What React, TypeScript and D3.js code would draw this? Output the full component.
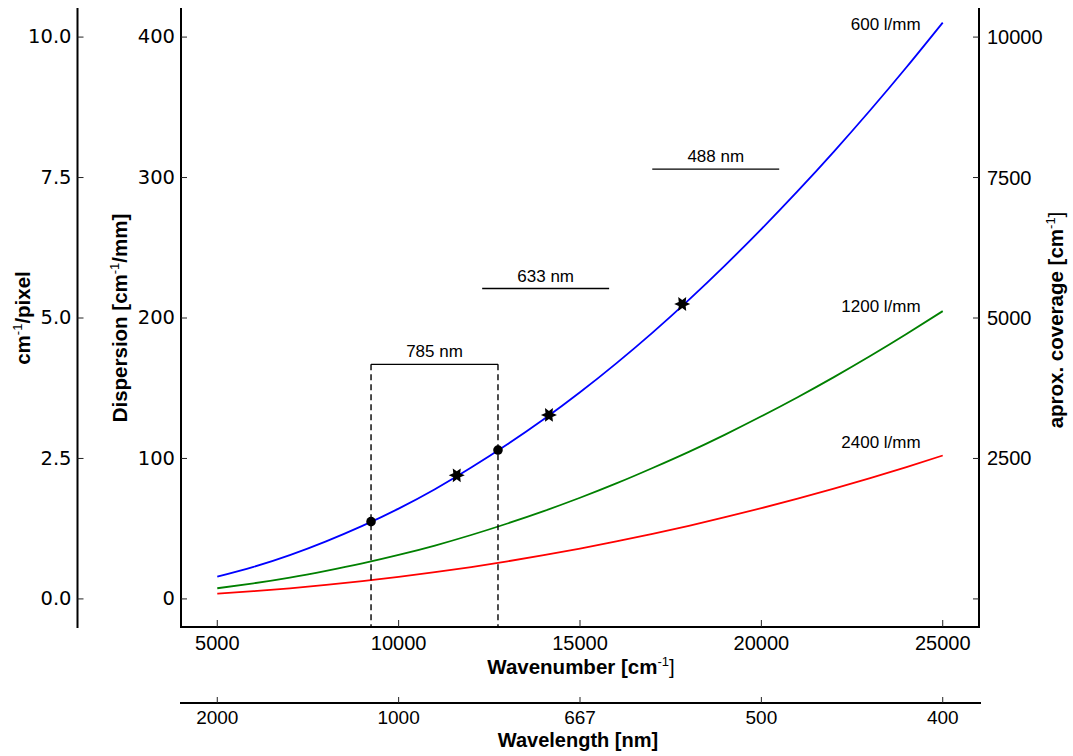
import React, { useEffect, useRef } from "react";
import * as d3 from "d3";

// Linear dispersion of three gratings against absolute wavenumber
const wavenumbers = [
  5000, 6000, 7000, 8000, 9000, 10000, 11000, 12000, 13000, 14000, 15000,
  16000, 17000, 18000, 19000, 20000, 21000, 22000, 23000, 24000, 25000,
];
const dispersion600 = [
  15.8, 22.8, 31.2, 41.0, 52.0, 64.3, 78.1, 93.5, 110.1, 127.9, 147.1, 167.7,
  189.6, 212.9, 237.5, 263.3, 290.3, 318.5, 347.9, 378.5, 410.3,
];
const dispersion1200 = [
  7.6, 11.1, 15.2, 20.0, 25.3, 31.3, 38.0, 45.5, 53.7, 62.5, 72.0, 82.2, 93.2,
  104.7, 117.0, 130.0, 143.6, 157.9, 172.9, 188.6, 204.9,
];
const dispersion2400 = [
  3.8, 5.5, 7.55, 9.95, 12.65, 15.65, 19.0, 22.7, 26.75, 31.15, 35.85, 40.9,
  46.3, 52.05, 58.15, 64.6, 71.4, 78.55, 86.05, 93.9, 102.1,
];
const gratingNames = ["600 l/mm", "1200 l/mm", "2400 l/mm"];
const gratingColors = ["#0000ff", "#008000", "#ff0000"];

// Highlighted points on the 600 l/mm curve
const circleWavenumbers = [9239, 12739];
const circleValues = [55, 106];
const starWavenumbers = [11602, 14144, 17818];
const starValues = [88, 131, 210];

// Laser lines and their 3500 cm-1 Stokes windows
const laserNames = ["785 nm", "633 nm", "488 nm"];
const laserWindowStart = [9239, 12303, 16992];
const laserWindowEnd = [12739, 15803, 20492];
const laserWindowLevel = [167, 221, 306];

// Axis ticks
const wavenumberTicks = [5000, 10000, 15000, 20000, 25000];
const dispersionTicks = [0, 100, 200, 300, 400];
const pixelTicks = [0, 2.5, 5, 7.5, 10];
const coverageTicks = [0, 2500, 5000, 7500, 10000];

const W = 1073;
const H = 756;
const LEFT = 181;
const RIGHT = 979;
const TOP = 9;
const BOTTOM = 627;
const OUTER_LEFT = 77.5;
const WL_AXIS_Y = 703;

const TICK_FONT_L = "'DejaVu Sans', sans-serif";
const SANS = "'Liberation Sans', Arial, sans-serif";
const TITLE_SIZE = 20.5;

export default function App() {
  const ref = useRef<SVGSVGElement>(null);

  useEffect(() => {
    const svg = d3.select(ref.current);
    svg.selectAll("*").remove();

    const x = d3.scaleLinear().domain([4000, 26000]).range([LEFT, RIGHT]);
    const y = d3.scaleLinear().domain([-20, 420]).range([BOTTOM, TOP]);
    const yPix = d3.scaleLinear().domain([-0.5, 10.5]).range([BOTTOM, TOP]);
    const yCov = d3.scaleLinear().domain([-500, 10500]).range([BOTTOM, TOP]);

    const g = svg.append("g");

    // curves
    const series = [dispersion600, dispersion1200, dispersion2400];
    const line = d3
      .line<number>()
      .x((_, i) => x(wavenumbers[i]))
      .y((d) => y(d))
      .curve(d3.curveNatural);
    series.forEach((s, k) => {
      g.append("path")
        .attr("d", line(s))
        .attr("fill", "none")
        .attr("stroke", gratingColors[k])
        .attr("stroke-width", 1.8);
    });

    // laser windows
    laserNames.forEach((name, i) => {
      const x0 = x(laserWindowStart[i]);
      const x1 = x(laserWindowEnd[i]);
      const yl = y(laserWindowLevel[i]);
      g.append("line")
        .attr("x1", x0)
        .attr("x2", x1)
        .attr("y1", yl)
        .attr("y2", yl)
        .attr("stroke", "#000")
        .attr("stroke-width", 1.4);
      g.append("text")
        .attr("x", (x0 + x1) / 2)
        .attr("y", yl - 7)
        .attr("text-anchor", "middle")
        .attr("font-family", SANS)
        .attr("font-size", 17)
        .text(name);
      if (i === 0) {
        [x0, x1].forEach((xv) => {
          g.append("line")
            .attr("x1", xv)
            .attr("x2", xv)
            .attr("y1", yl)
            .attr("y2", y(-20))
            .attr("stroke", "#000")
            .attr("stroke-width", 1.4)
            .attr("stroke-dasharray", "6,4");
        });
      }
    });

    // markers
    circleWavenumbers.forEach((wn, i) => {
      g.append("circle")
        .attr("cx", x(wn))
        .attr("cy", y(circleValues[i]))
        .attr("r", 4.8)
        .attr("fill", "#000");
    });
    const starPath = (() => {
      const pts: [number, number][] = [];
      for (let k = 0; k < 12; k++) {
        const a = (k * Math.PI) / 6;
        const r = k % 2 === 0 ? 8 : 4;
        pts.push([r * Math.cos(a), r * Math.sin(a)]);
      }
      return "M" + pts.map((p) => p.join(",")).join("L") + "Z";
    })();
    starWavenumbers.forEach((wn, i) => {
      g.append("path")
        .attr("d", starPath)
        .attr("transform", `translate(${x(wn)},${y(starValues[i])})`)
        .attr("fill", "#000");
    });

    // grating labels
    const labelAnchorWn = 24392;
    const labelLevels = [405, 204.3, 107.5];
    gratingNames.forEach((name, k) => {
      g.append("text")
        .attr("x", x(labelAnchorWn))
        .attr("y", y(labelLevels[k]))
        .attr("text-anchor", "end")
        .attr("font-family", SANS)
        .attr("font-size", 17)
        .text(name);
    });

    // spines
    const spine = (x1: number, y1: number, x2: number, y2: number) =>
      g
        .append("line")
        .attr("x1", x1)
        .attr("y1", y1)
        .attr("x2", x2)
        .attr("y2", y2)
        .attr("stroke", "#000")
        .attr("stroke-width", 2);
    spine(OUTER_LEFT, 8, OUTER_LEFT, 628);
    spine(LEFT, 8, LEFT, 628);
    spine(RIGHT, 8, RIGHT, 628);
    spine(LEFT - 1, BOTTOM, RIGHT + 1, BOTTOM);
    spine(LEFT - 1, WL_AXIS_Y, RIGHT + 2, WL_AXIS_Y);

    const tick = (x1: number, y1: number, x2: number, y2: number) =>
      g
        .append("line")
        .attr("x1", x1)
        .attr("y1", y1)
        .attr("x2", x2)
        .attr("y2", y2)
        .attr("stroke", "#222")
        .attr("stroke-width", 1);

    // dispersion axis
    dispersionTicks.forEach((v) => {
      tick(LEFT, y(v), LEFT + 6, y(v));
      g.append("text")
        .attr("x", LEFT - 6)
        .attr("y", y(v))
        .attr("dy", "0.32em")
        .attr("text-anchor", "end")
        .attr("font-family", TICK_FONT_L)
        .attr("font-size", 19.5)
        .text(String(v));
    });
    // cm-1/pixel axis
    pixelTicks.forEach((v) => {
      tick(OUTER_LEFT, yPix(v), OUTER_LEFT + 6, yPix(v));
      g.append("text")
        .attr("x", OUTER_LEFT - 6)
        .attr("y", yPix(v))
        .attr("dy", "0.32em")
        .attr("text-anchor", "end")
        .attr("font-family", TICK_FONT_L)
        .attr("font-size", 19.5)
        .text(d3.format(".1f")(v));
    });
    // coverage axis
    coverageTicks.forEach((v) => {
      tick(RIGHT, yCov(v), RIGHT - 6, yCov(v));
      if (v > 0) {
        g.append("text")
          .attr("x", RIGHT + 8)
          .attr("y", yCov(v))
          .attr("dy", "0.35em")
          .attr("text-anchor", "start")
          .attr("font-family", SANS)
          .attr("font-size", 20)
          .text(String(v));
      }
    });
    // wavenumber axis
    wavenumberTicks.forEach((v) => {
      tick(x(v), BOTTOM, x(v), BOTTOM - 7);
      g.append("text")
        .attr("x", x(v))
        .attr("y", 650)
        .attr("text-anchor", "middle")
        .attr("font-family", SANS)
        .attr("font-size", 20)
        .text(String(v));
    });
    // wavelength axis (same positions, labelled in nm)
    wavenumberTicks.forEach((v) => {
      tick(x(v), WL_AXIS_Y, x(v), WL_AXIS_Y - 6);
      g.append("text")
        .attr("x", x(v))
        .attr("y", 724)
        .attr("text-anchor", "middle")
        .attr("font-family", SANS)
        .attr("font-size", 19)
        .text(d3.format(".0f")(1e7 / v));
    });

    // axis titles with a superscript "-1"
    const title = (
      xp: number,
      yp: number,
      rotate: boolean,
      parts: { t: string; sup?: boolean; plain?: boolean }[],
      size = TITLE_SIZE
    ) => {
      const t = g
        .append("text")
        .attr("x", xp)
        .attr("y", yp)
        .attr("text-anchor", "middle")
        .attr("font-family", SANS)
        .attr("font-weight", "bold")
        .attr("font-size", size);
      if (rotate) t.attr("transform", `rotate(-90,${xp},${yp})`);
      let raised = false;
      parts.forEach((p) => {
        const s = t.append("tspan").text(p.t);
        if (p.sup) {
          s.attr("font-size", 13).attr("dy", -8).attr("font-weight", "normal");
          raised = true;
        } else {
          if (raised) {
            s.attr("dy", 8);
            raised = false;
          }
          if (p.plain) s.attr("font-weight", "normal");
        }
      });
      return t;
    };
    title(581, 674, false, [
      { t: "Wavenumber [cm" },
      { t: "-1", sup: true },
      { t: "]", plain: true },
    ]);
    title(578, 747, false, [{ t: "Wavelength [nm]" }], 20);
    title(127, 318, true, [
      { t: "Dispersion [cm" },
      { t: "-1", sup: true },
      { t: "/mm]" },
    ]);
    title(30, 318, true, [{ t: "cm" }, { t: "-1", sup: true }, { t: "/pixel" }]);
    title(1063, 320, true, [
      { t: "aprox. coverage [cm" },
      { t: "-1", sup: true },
      { t: "]", plain: true },
    ]);
  }, []);

  return (
    <svg
      ref={ref}
      width={W}
      height={H}
      style={{ position: "absolute", left: 0, top: 0, background: "#fff" }}
    />
  );
}
